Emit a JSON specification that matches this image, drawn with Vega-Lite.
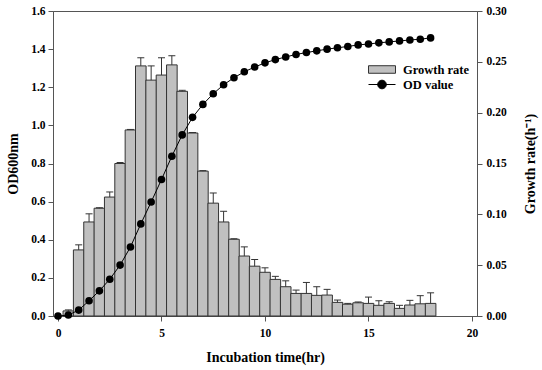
{
  "$schema": "https://vega.github.io/schema/vega-lite/v6.json",
  "width": 424,
  "height": 305,
  "autosize": "none",
  "padding": {"left": 53, "top": 11, "right": 65, "bottom": 54},
  "background": "white",
  "config": {
    "font": "Liberation Serif",
    "view": {"stroke": "#555", "strokeWidth": 1},
    "axis": {
      "grid": false,
      "domainColor": "#555",
      "tickColor": "#555",
      "tickSize": 5,
      "labelOverlap": false,
      "labelFont": "Liberation Serif",
      "labelFontWeight": "bold",
      "labelFontSize": 11.5,
      "labelColor": "black",
      "titleFont": "Liberation Serif",
      "titleFontWeight": "bold",
      "titleFontSize": 14,
      "titleColor": "black"
    },
    "legend": {
      "labelFont": "Liberation Serif",
      "labelFontWeight": "bold",
      "labelFontSize": 12.5,
      "labelColor": "black",
      "padding": 0
    }
  },
  "datasets": {
    "growth": [
      {"t": 0.5, "gr": 0.005, "hi": 0.006},
      {"t": 1.0, "gr": 0.065, "hi": 0.070},
      {"t": 1.5, "gr": 0.0925, "hi": 0.1005},
      {"t": 2.0, "gr": 0.106, "hi": 0.1065},
      {"t": 2.5, "gr": 0.117, "hi": 0.122},
      {"t": 3.0, "gr": 0.150, "hi": 0.151},
      {"t": 3.5, "gr": 0.183, "hi": 0.1835},
      {"t": 4.0, "gr": 0.246, "hi": 0.254},
      {"t": 4.5, "gr": 0.232, "hi": 0.246},
      {"t": 5.0, "gr": 0.237, "hi": 0.254},
      {"t": 5.5, "gr": 0.247, "hi": 0.256},
      {"t": 6.0, "gr": 0.221, "hi": 0.222},
      {"t": 6.5, "gr": 0.180, "hi": 0.1805},
      {"t": 7.0, "gr": 0.1425, "hi": 0.143},
      {"t": 7.5, "gr": 0.111, "hi": 0.121},
      {"t": 8.0, "gr": 0.0925, "hi": 0.103},
      {"t": 8.5, "gr": 0.0755, "hi": 0.076},
      {"t": 9.0, "gr": 0.059, "hi": 0.068},
      {"t": 9.5, "gr": 0.049, "hi": 0.0556},
      {"t": 10.0, "gr": 0.043, "hi": 0.0474},
      {"t": 10.5, "gr": 0.036, "hi": 0.039},
      {"t": 11.0, "gr": 0.0288, "hi": 0.0346},
      {"t": 11.5, "gr": 0.0222, "hi": 0.0255},
      {"t": 12.0, "gr": 0.0222, "hi": 0.033},
      {"t": 12.5, "gr": 0.0203, "hi": 0.0288},
      {"t": 13.0, "gr": 0.0206, "hi": 0.0262},
      {"t": 13.5, "gr": 0.0134, "hi": 0.0157},
      {"t": 14.0, "gr": 0.0116, "hi": 0.0124},
      {"t": 14.5, "gr": 0.013, "hi": 0.0138},
      {"t": 15.0, "gr": 0.0124, "hi": 0.0186},
      {"t": 15.5, "gr": 0.0105, "hi": 0.015},
      {"t": 16.0, "gr": 0.0124, "hi": 0.014},
      {"t": 16.5, "gr": 0.0075, "hi": 0.0105},
      {"t": 17.0, "gr": 0.0108, "hi": 0.0154},
      {"t": 17.5, "gr": 0.012, "hi": 0.020},
      {"t": 18.0, "gr": 0.0124, "hi": 0.0228}
    ],
    "od": [
      {"t": 0.0, "od": 0.0},
      {"t": 0.5, "od": 0.005},
      {"t": 1.0, "od": 0.031},
      {"t": 1.5, "od": 0.08},
      {"t": 2.0, "od": 0.132},
      {"t": 2.5, "od": 0.193},
      {"t": 3.0, "od": 0.267},
      {"t": 3.5, "od": 0.362},
      {"t": 4.0, "od": 0.483},
      {"t": 4.5, "od": 0.598},
      {"t": 5.0, "od": 0.716},
      {"t": 5.5, "od": 0.838},
      {"t": 6.0, "od": 0.950},
      {"t": 6.5, "od": 1.042},
      {"t": 7.0, "od": 1.110},
      {"t": 7.5, "od": 1.166},
      {"t": 8.0, "od": 1.213},
      {"t": 8.5, "od": 1.25},
      {"t": 9.0, "od": 1.281},
      {"t": 9.5, "od": 1.306},
      {"t": 10.0, "od": 1.328},
      {"t": 10.5, "od": 1.345},
      {"t": 11.0, "od": 1.359},
      {"t": 11.5, "od": 1.372},
      {"t": 12.0, "od": 1.382},
      {"t": 12.5, "od": 1.391},
      {"t": 13.0, "od": 1.40},
      {"t": 13.5, "od": 1.407},
      {"t": 14.0, "od": 1.414},
      {"t": 14.5, "od": 1.422},
      {"t": 15.0, "od": 1.427},
      {"t": 15.5, "od": 1.433},
      {"t": 16.0, "od": 1.438},
      {"t": 16.5, "od": 1.443},
      {"t": 17.0, "od": 1.448},
      {"t": 17.5, "od": 1.452},
      {"t": 18.0, "od": 1.459}
    ]
  },
  "layer": [
    {
      "data": {"name": "growth"},
      "encoding": {
        "x": {"field": "t", "type": "quantitative", "scale": {"domain": [0, 20], "nice": false}, "axis": {"values": [0, 5, 10, 15, 20], "format": "d", "title": "Incubation time(hr)", "titlePadding": 12, "labelPadding": 6}}
      },
      "layer": [
        {
          "mark": {"type": "bar", "width": 10.6, "stroke": "#333", "strokeWidth": 1},
          "encoding": {
            "y": {"field": "gr", "type": "quantitative", "scale": {"domain": [0, 0.3], "nice": false}, "axis": {"orient": "right", "values": [0, 0.05, 0.1, 0.15, 0.2, 0.25, 0.3], "format": ".2f", "labelOverlap": false, "title": "Growth rate(h⁻¹)", "titleAngle": 270, "titleBaseline": "top", "titlePadding": 17, "labelPadding": 4}},
            "fill": {"datum": "Growth rate", "type": "nominal", "scale": {"range": ["#c0c0c0"]}, "legend": {"title": null, "orient": "none", "legendX": 315, "legendY": 44.5, "symbolType": "M-1,-0.28H1V0.28H-1Z", "symbolSize": 729, "labelOffset": 7, "labelFontWeight": "bold", "labelFont": "Liberation Serif", "labelFontSize": 12.5, "symbolStrokeColor": "#333", "symbolStrokeWidth": 1, "symbolFillColor": "#c0c0c0"}}
          }
        },
        {
          "mark": {"type": "rule", "color": "#333", "strokeWidth": 1},
          "encoding": {
            "y": {"field": "gr", "type": "quantitative"},
            "y2": {"field": "hi"}
          }
        },
        {
          "mark": {"type": "tick", "orient": "horizontal", "size": 7, "thickness": 1, "color": "#333", "opacity": 1},
          "encoding": {
            "y": {"field": "hi", "type": "quantitative"}
          }
        }
      ]
    },
    {
      "data": {"name": "od"},
      "encoding": {
        "x": {"field": "t", "type": "quantitative"},
        "y": {"field": "od", "type": "quantitative", "scale": {"domain": [0, 1.6], "nice": false}, "axis": {"orient": "left", "values": [0, 0.2, 0.4, 0.6, 0.8, 1.0, 1.2, 1.4, 1.6], "format": ".1f", "labelOverlap": false, "title": "OD600nm", "titlePadding": 10, "labelPadding": 3}}
      },
      "layer": [
        {
          "mark": {"type": "line", "strokeWidth": 1},
          "encoding": {
            "stroke": {"datum": "OD value", "type": "nominal", "scale": {"range": ["black"]}, "legend": {"title": null, "orient": "none", "legendX": 315, "legendY": 59.5, "symbolType": "M-1,0H1M-0.32,0A0.32,0.32 0 1,0 0.32,0A0.32,0.32 0 1,0 -0.32,0Z", "symbolSize": 729, "labelOffset": 7, "labelFontWeight": "bold", "labelFont": "Liberation Serif", "labelFontSize": 12.5, "symbolStrokeColor": "black", "symbolStrokeWidth": 1, "symbolFillColor": "black", "symbolOpacity": 1}}
          }
        },
        {
          "mark": {"type": "point", "filled": true, "color": "black", "size": 58, "opacity": 1}
        }
      ]
    }
  ],
  "resolve": {"scale": {"y": "independent", "fill": "independent", "stroke": "independent"}}
}
